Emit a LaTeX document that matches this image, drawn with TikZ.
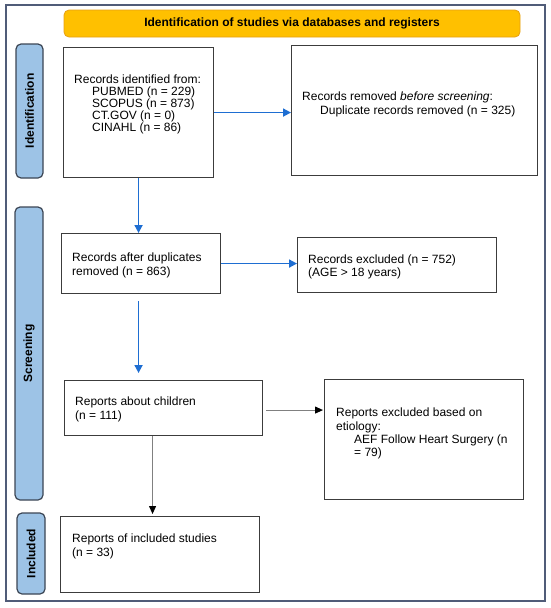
\documentclass[tikz,border=0pt]{standalone}
\usepackage{fontspec}
\setmainfont{Liberation Sans}
\usetikzlibrary{arrows.meta,calc}
\definecolor{framec}{RGB}{80,92,120}
\definecolor{orangef}{RGB}{255,192,0}
\definecolor{orangeb}{RGB}{230,160,20}
\definecolor{sidef}{RGB}{157,195,230}
\definecolor{sideb}{RGB}{60,70,85}
\definecolor{boxc}{RGB}{60,60,60}
\definecolor{bluec}{RGB}{30,110,210}
\definecolor{greyc}{RGB}{128,128,128}
\tikzset{
  frame/.style={draw=framec, line width=1.6pt},
  banner/.style={draw=orangeb, fill=orangef, rounded corners=5pt, line width=0.8pt,
    inner sep=0pt, font=\fontsize{12}{14}\selectfont\bfseries},
  side/.style={draw=sideb, fill=sidef, rounded corners=5pt, line width=1.2pt,
    rotate=90, inner sep=0pt, font=\fontsize{12}{14}\selectfont\bfseries},
  box/.style={draw=boxc, line width=1.1pt, anchor=north west, inner sep=0pt},
  txt/.style={inner sep=0pt, align=left, anchor=north west, font=\fontsize{12}{13.5}\selectfont},
  bluearrow/.style={draw=bluec, line width=1.7pt, -{Triangle[length=8pt,width=8pt]}},
  greyarrow/.style={draw=greyc, line width=1pt, -{Triangle[length=8pt,width=7pt,color=black]}}
}
\newcommand{\ind}{\hspace*{18pt}}
\begin{document}
\begin{tikzpicture}[x=1pt,y=-1pt]
\useasboundingbox (0,0) rectangle (550,608);
\fill[white] (0,0) rectangle (550,608);
\draw[frame] (6,5) rectangle (545,601);

% banner and phase labels
\node[banner, minimum width=456pt, minimum height=27pt] (ban) at (292,23.5)
  {Identification of studies via databases and registers};
\node[side, minimum width=134pt, minimum height=27pt] (sI) at (29.5,111) {Identification};
\node[side, minimum width=293pt, minimum height=28pt] (sS) at (29,353.5) {Screening};
\node[side, minimum width=81pt, minimum height=28pt] (sN) at (31,553.5) {Included};

% boxes
\node[box, minimum width=150pt, minimum height=130pt] (b1) at (63,47) {};
\node[box, minimum width=246pt, minimum height=130pt] (b1r) at (291,45) {};
\node[box, minimum width=159pt, minimum height=60pt] (b2) at (61,233) {};
\node[box, minimum width=199pt, minimum height=55pt] (b2r) at (297,237) {};
\node[box, minimum width=198pt, minimum height=55pt] (b3) at (64,380) {};
\node[box, minimum width=199pt, minimum height=120pt] (b3r) at (324,379) {};
\node[box, minimum width=199pt, minimum height=76pt] (b4) at (60,516) {};

% texts
\node[txt, font=\fontsize{12}{12}\selectfont] (t1) at (74,74.3)
  {Records identified from:\\\ind PUBMED (n = 229)\\\ind SCOPUS (n = 873)\\\ind CT.GOV (n = 0)\\\ind CINAHL (n = 86)};
\node[txt, font=\fontsize{12}{14}\selectfont] (t1r) at (302,91.8)
  {Records removed \textit{before screening}:\\\ind Duplicate records removed (n = 325)};
\node[txt] (t2) at (72,253) {Records after duplicates\\removed (n = 863)};
\node[txt] (t2r) at (308,254.6) {Records excluded (n = 752)\\(AGE > 18 years)};
\node[txt] (t3) at (75,397) {Reports about children\\(n = 111)};
\node[txt, font=\fontsize{12}{13.1}\selectfont] (t3r) at (336,408)
  {Reports excluded based on\\etiology:\\\ind AEF Follow Heart Surgery (n\\\ind = 79)};
\node[txt, font=\fontsize{12}{14}\selectfont] (t4) at (72,534) {Reports of included studies\\(n = 33)};

% connectors
\draw[bluearrow] (b1.east) -- (b1.east -| b1r.west);
\draw[bluearrow] (b1.south) -- (b1.south |- b2.north);
\draw[bluearrow] (b2.east) -- (b2.east -| b2r.west);
\draw[bluearrow, shorten <=7pt, shorten >=7pt] (b2.south -| b1.south) -- (b3.north -| b1.south);
\draw[greyarrow, shorten <=3pt, shorten >=1pt] ([yshift=-2pt]b3.east) -- ([yshift=-2pt]b3.east -| b3r.west);
\draw[greyarrow, shorten >=2pt] ([xshift=-11pt]b3.south) -- ([xshift=-11pt]b3.south |- b4.north);
\end{tikzpicture}
\end{document}
